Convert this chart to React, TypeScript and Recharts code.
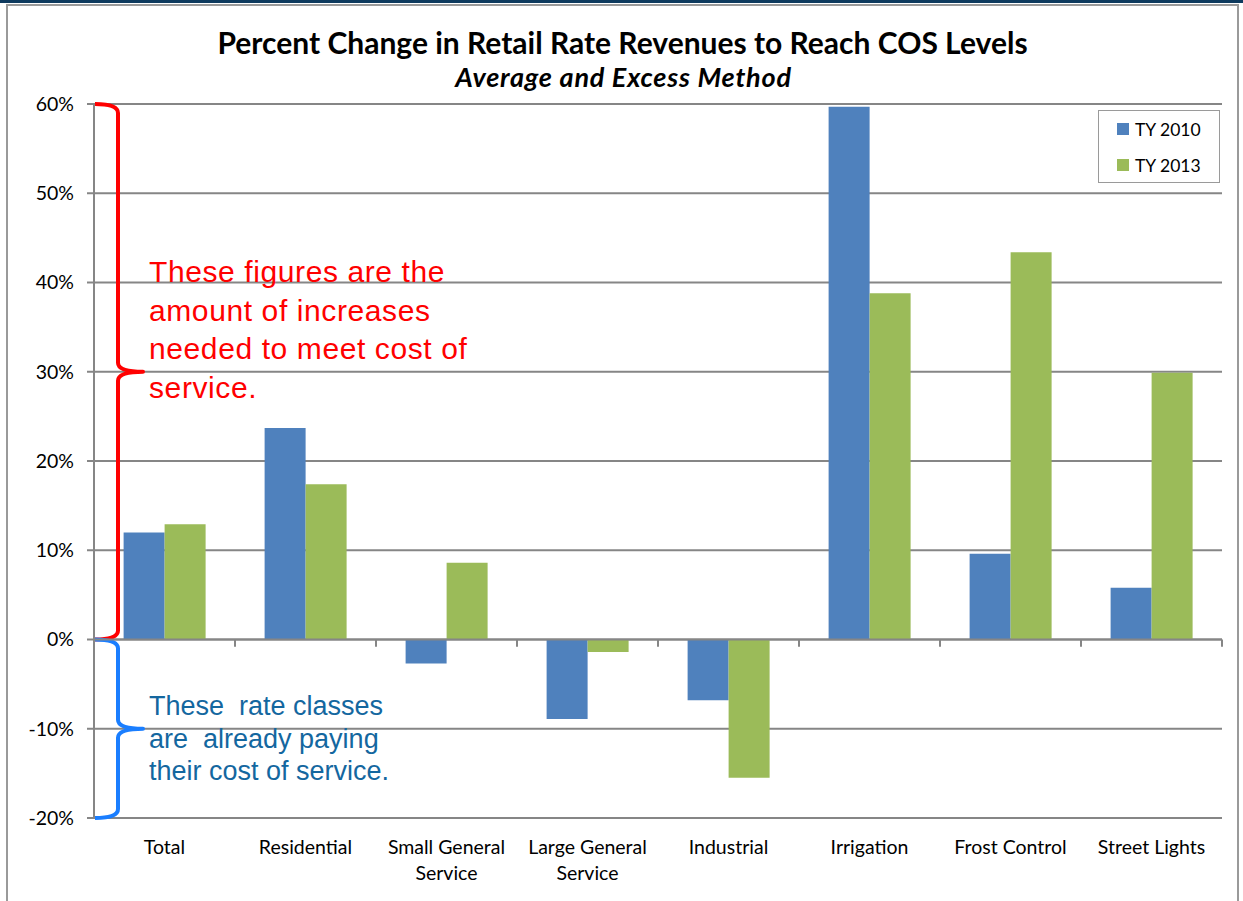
import React from 'react';
import {
  BarChart,
  Bar,
  XAxis,
  YAxis,
  CartesianGrid,
  ReferenceLine,
  ReferenceArea,
} from 'recharts';

const categories = [
  'Total',
  'Residential',
  'Small General\nService',
  'Large General\nService',
  'Industrial',
  'Irrigation',
  'Frost Control',
  'Street Lights',
];
const ty2010 = [12.0, 23.7, -2.7, -8.9, -6.8, 59.7, 9.6, 5.8];
const ty2013 = [12.9, 17.4, 8.6, -1.4, -15.5, 38.8, 43.4, 29.9];
const yTicks = [-20, -10, 0, 10, 20, 30, 40, 50, 60];
const seriesNames = ['TY 2010', 'TY 2013'];
const titleText = 'Percent Change in Retail Rate Revenues to Reach COS Levels';
const subtitleText = 'Average and Excess Method';
const redNote = ['These figures are the', 'amount of increases', 'needed to meet cost of', 'service.'];
const blueNote = ['These\u00a0 rate classes', 'are\u00a0 already paying', 'their cost of service.'];

const BLUE = '#4F81BD';
const GREEN = '#9BBB59';
const GRID = '#868686';
const FONT = 'Lato, "Open Sans", sans-serif';

const data = categories.map((c, i) => ({ name: c, a: ty2010[i], b: ty2013[i] }));

const XTick = (props: any) => {
  const { x, y, payload } = props;
  const lines = String(payload.value).split('\n');
  return (
    <g>
      {lines.map((l: string, i: number) => (
        <text
          key={i}
          x={x}
          y={y + 28 + i * 26}
          textAnchor="middle"
          fontFamily={FONT}
          fontSize={19.5}
          fill="#000"
        >
          {l}
        </text>
      ))}
    </g>
  );
};

const makeBrace = (color: string) => (props: any) => {
  const { x, y, height } = props;
  const x0 = x + 1;
  const xv = x + 24;
  const xp = x + 49;
  const yt = y;
  const yb = y + height;
  const ym = y + height / 2;
  const r = 9;
  const d = `M ${x0} ${yt} Q ${xv} ${yt} ${xv} ${yt + r} L ${xv} ${ym - r} Q ${xv} ${ym} ${xp} ${ym} Q ${xv} ${ym} ${xv} ${ym + r} L ${xv} ${yb - r} Q ${xv} ${yb} ${x0} ${yb}`;
  return <path d={d} fill="none" stroke={color} strokeWidth={4} strokeLinejoin="round" />;
};

export default function App() {
  return (
    <div
      style={{
        position: 'absolute',
        left: 0,
        top: 0,
        width: 1243,
        height: 901,
        background: '#fff',
        overflow: 'hidden',
      }}
    >
      <div style={{ position: 'absolute', left: 0, top: 0, width: 1243, height: 3, background: '#0E3A5E' }} />
      <div
        style={{
          position: 'absolute',
          left: 6,
          top: 4,
          width: 1233,
          height: 920,
          border: '2px solid #9a9a9a',
          boxSizing: 'border-box',
        }}
      />
      <div
        style={{
          position: 'absolute',
          left: 0,
          width: 1245,
          top: 24,
          textAlign: 'center',
          fontFamily: FONT,
          fontWeight: 700,
          fontSize: 30,
          color: '#000',
          lineHeight: '36px',
        }}
      >
        {titleText}
      </div>
      <div
        style={{
          position: 'absolute',
          left: 0,
          width: 1247,
          top: 61,
          textAlign: 'center',
          fontFamily: FONT,
          fontWeight: 700,
          fontStyle: 'italic',
          fontSize: 27,
          letterSpacing: 0.8,
          color: '#000',
          lineHeight: '32px',
        }}
      >
        {subtitleText}
      </div>
      <div style={{ position: 'absolute', left: 0, top: 0 }}>
        <BarChart
          width={1243}
          height={901}
          data={data}
          margin={{ top: 104, right: 21, bottom: 23, left: 0 }}
          barCategoryGap="21%"
          barGap={0}
        >
          <CartesianGrid horizontal vertical={false} stroke={GRID} strokeWidth={2} />
          <XAxis
            dataKey="name"
            axisLine={false}
            tickLine={false}
            height={60}
            interval={0}
            tick={<XTick />}
          />
          <YAxis
            width={94}
            domain={[-20, 60]}
            ticks={yTicks}
            interval={0}
            tickFormatter={(v: number) => `${v}%`}
            axisLine={{ stroke: GRID, strokeWidth: 2 }}
            tickLine={{ stroke: GRID, strokeWidth: 2 }}
            tickSize={7}
            tickMargin={13}
            tick={{ fontFamily: FONT, fontSize: 19.5, fill: '#000' }}
          />
          <Bar dataKey="a" name={seriesNames[0]} fill={BLUE} isAnimationActive={false} />
          <Bar dataKey="b" name={seriesNames[1]} fill={GREEN} isAnimationActive={false} />
          <ReferenceLine y={0} stroke={GRID} strokeWidth={2} />
          {categories.slice(1).map((c) => (
            <ReferenceLine
              key={c}
              segment={[
                { x: c, y: 0 },
                { x: c, y: -0.8 },
              ]}
              position="start"
              stroke={GRID}
              strokeWidth={2}
            />
          ))}
          <ReferenceLine
            segment={[
              { x: categories[categories.length - 1], y: 0 },
              { x: categories[categories.length - 1], y: -0.8 },
            ]}
            position="end"
            stroke={GRID}
            strokeWidth={2}
          />
          <ReferenceArea y1={0} y2={60} shape={makeBrace('#FF0000')} />
          <ReferenceArea y1={-20} y2={0} shape={makeBrace('#1A7EFF')} />
        </BarChart>
      </div>
      <div
        style={{
          position: 'absolute',
          left: 149,
          top: 253,
          fontFamily: '"Liberation Sans", Arial, sans-serif',
          fontSize: 30,
          letterSpacing: 0.6,
          lineHeight: '38.5px',
          color: '#FF0000',
          whiteSpace: 'pre',
        }}
      >
        {redNote.join('\n')}
      </div>
      <div
        style={{
          position: 'absolute',
          left: 149,
          top: 690,
          fontFamily: '"Liberation Sans", Arial, sans-serif',
          fontSize: 27,
          lineHeight: '32.5px',
          color: '#14679F',
          whiteSpace: 'pre',
        }}
      >
        {blueNote.join('\n')}
      </div>
      <div
        style={{
          position: 'absolute',
          left: 1098,
          top: 110,
          width: 122,
          height: 73,
          border: '1.5px solid #9a9a9a',
          boxSizing: 'border-box',
          background: '#fff',
          fontFamily: FONT,
          fontSize: 17.5,
          color: '#000',
        }}
      >
        {seriesNames.map((n, i) => (
          <div
            key={n}
            style={{ position: 'absolute', left: 18, top: 7 + i * 36, display: 'flex', alignItems: 'center', height: 22 }}
          >
            <span style={{ width: 12, height: 12, background: i === 0 ? BLUE : GREEN, display: 'inline-block', marginRight: 6 }} />
            <span>{n}</span>
          </div>
        ))}
      </div>
    </div>
  );
}
